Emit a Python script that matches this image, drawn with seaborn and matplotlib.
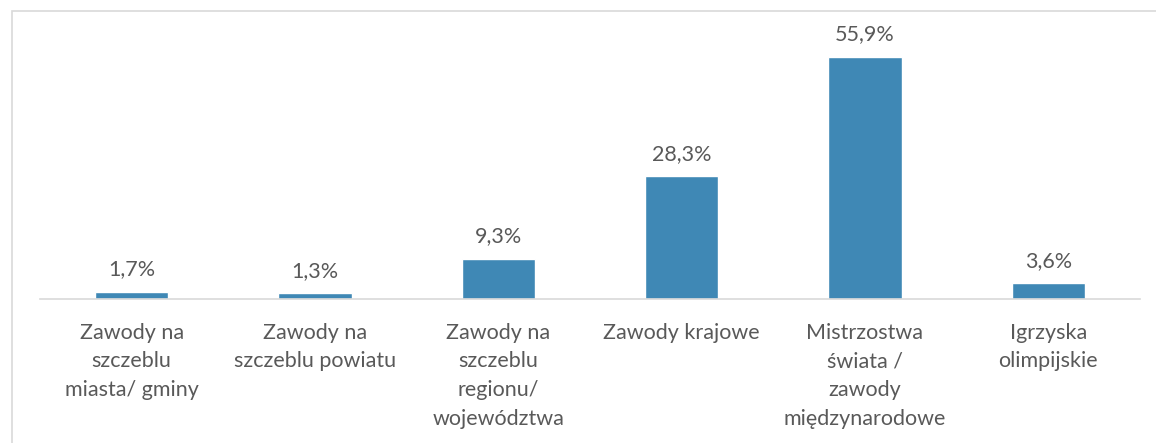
import matplotlib
matplotlib.use("Agg")
import matplotlib.pyplot as plt
import seaborn as sns
import pandas as pd
from matplotlib.patches import Rectangle

categories = [
    "Zawody na\nszczeblu\nmiasta/ gminy",
    "Zawody na\nszczeblu powiatu",
    "Zawody na\nszczeblu\nregionu/\nwojewództwa",
    "Zawody krajowe",
    "Mistrzostwa\nświata /\nzawody\nmiędzynarodowe",
    "Igrzyska\nolimpijskie",
]
values = [1.7, 1.3, 9.3, 28.3, 55.9, 3.6]
value_labels = ["1,7%", "1,3%", "9,3%", "28,3%", "55,9%", "3,6%"]

df = pd.DataFrame({"kategoria": categories, "procent": values})

sns.set_style("white")
plt.rcParams["font.family"] = ["Lato", "DejaVu Sans"]

text_color = "#595959"
bar_color = "#3F88B5"

fig = plt.figure(figsize=(11.56, 4.43), dpi=100)
ax = fig.add_axes([40 / 1156, 0.325, 1100 / 1156, 0.587])

sns.barplot(data=df, x="kategoria", y="procent", color=bar_color,
            width=0.4, saturation=1, ax=ax)

ax.set_ylim(0, 60)
ax.set_xlim(-0.5, 5.5)
ax.set_xlabel("")
ax.set_ylabel("")
ax.set_yticks([])
ax.tick_params(axis="x", length=0, pad=17, labelsize=15.5, labelcolor=text_color)
for lbl in ax.get_xticklabels():
    lbl.set_linespacing(1.55)
    lbl.set_verticalalignment("top")

for s in ["top", "right", "left"]:
    ax.spines[s].set_visible(False)
ax.spines["bottom"].set_color("#D9D9D9")
ax.spines["bottom"].set_linewidth(1.2)

for i, (v, t) in enumerate(zip(values, value_labels)):
    ax.annotate(t, (i, v), xytext=(0, 9), textcoords="offset points",
                ha="center", va="bottom", fontsize=15.5, color=text_color)

# chart frame
fig.patches.append(Rectangle((12 / 1156, -0.1), 1.2, 1 - 11 / 443 + 0.1,
                             transform=fig.transFigure, fill=False,
                             edgecolor="#D9D9D9", linewidth=1.2))

fig.savefig("out.png", dpi=100)
